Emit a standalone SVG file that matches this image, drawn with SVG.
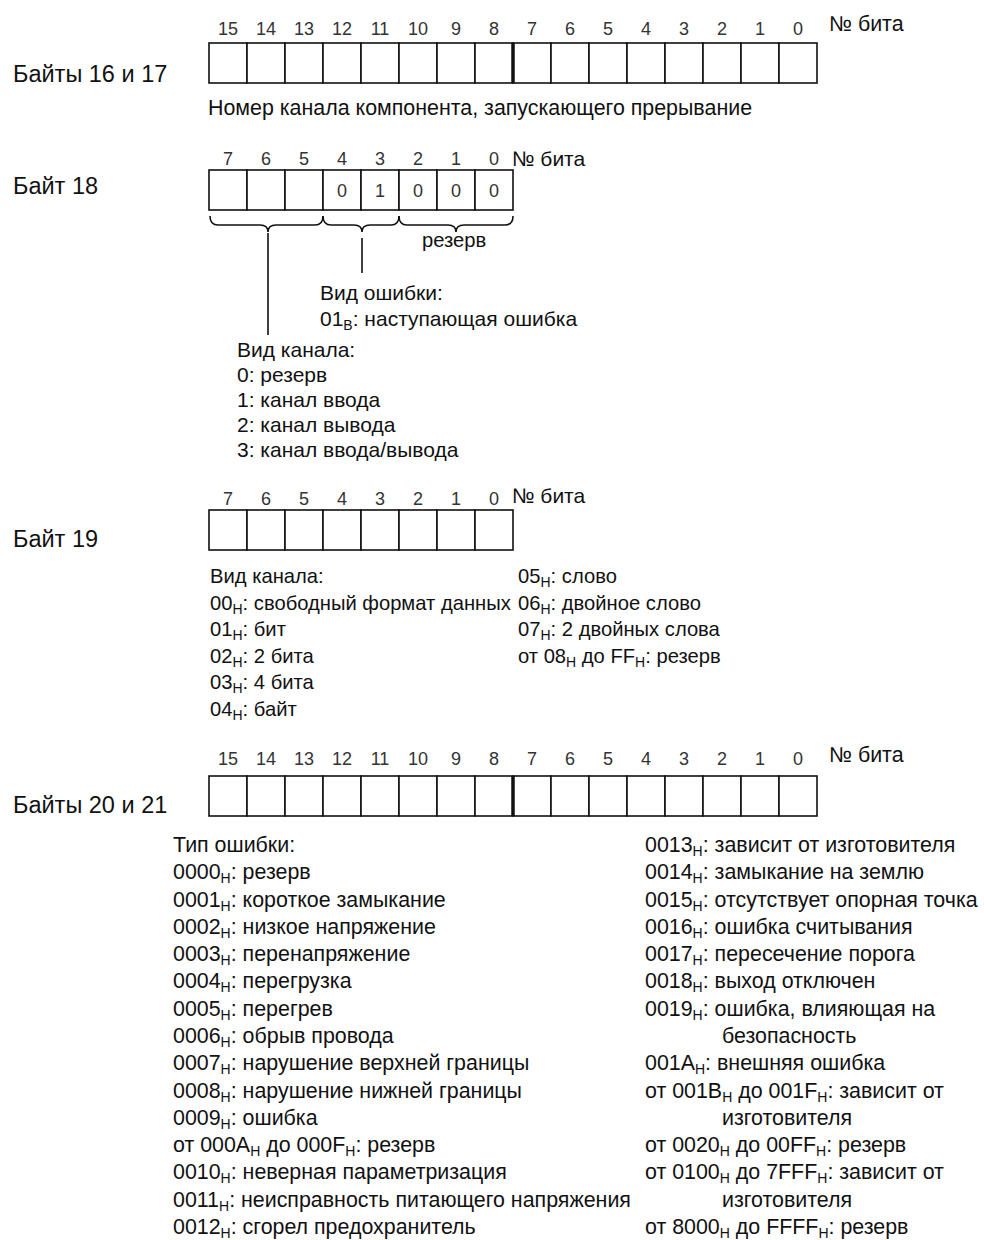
<svg xmlns="http://www.w3.org/2000/svg" width="984" height="1240" viewBox="0 0 984 1240">
<style>
text{font-family:"Liberation Sans",Arial,sans-serif;fill:#111}
.lbl{font-size:23.5px}
.n{font-size:18px;fill:#333;text-anchor:middle}
.b{font-size:21.4px}
.m{font-size:20.2px}
.k{font-size:21px}
.s{font-size:14px}
.cell{fill:#fff;stroke:#111;stroke-width:1.6}
.thick{stroke:#111;stroke-width:3.5}
.ln{fill:none;stroke:#111;stroke-width:1.6}
</style>
<rect width="984" height="1240" fill="#fff"/>

<g id="bytes16-17">
  <text class="lbl" x="13" y="82">Байты 16 и 17</text>
  <g>
    <text class="n" x="228" y="35">15</text><text class="n" x="266" y="35">14</text><text class="n" x="304" y="35">13</text><text class="n" x="342" y="35">12</text>
    <text class="n" x="380" y="35">11</text><text class="n" x="418" y="35">10</text><text class="n" x="456" y="35">9</text><text class="n" x="494" y="35">8</text>
    <text class="n" x="532" y="35">7</text><text class="n" x="570" y="35">6</text><text class="n" x="608" y="35">5</text><text class="n" x="646" y="35">4</text>
    <text class="n" x="684" y="35">3</text><text class="n" x="722" y="35">2</text><text class="n" x="760" y="35">1</text><text class="n" x="798" y="35">0</text>
  </g>
  <text class="b" x="829" y="31">№ бита</text>
  <g>
    <rect class="cell" x="209" y="43" width="38" height="40"/><rect class="cell" x="247" y="43" width="38" height="40"/><rect class="cell" x="285" y="43" width="38" height="40"/><rect class="cell" x="323" y="43" width="38" height="40"/>
    <rect class="cell" x="361" y="43" width="38" height="40"/><rect class="cell" x="399" y="43" width="38" height="40"/><rect class="cell" x="437" y="43" width="38" height="40"/><rect class="cell" x="475" y="43" width="38" height="40"/>
    <rect class="cell" x="513" y="43" width="38" height="40"/><rect class="cell" x="551" y="43" width="38" height="40"/><rect class="cell" x="589" y="43" width="38" height="40"/><rect class="cell" x="627" y="43" width="38" height="40"/>
    <rect class="cell" x="665" y="43" width="38" height="40"/><rect class="cell" x="703" y="43" width="38" height="40"/><rect class="cell" x="741" y="43" width="38" height="40"/><rect class="cell" x="779" y="43" width="38" height="40"/>
    <line class="thick" x1="513" y1="43" x2="513" y2="83"/>
  </g>
  <text class="b" x="208" y="115">Номер канала компонента, запускающего прерывание</text>
</g>

<g id="byte18">
  <text class="lbl" x="13" y="194">Байт 18</text>
  <g>
    <text class="n" x="228" y="165">7</text><text class="n" x="266" y="165">6</text><text class="n" x="304" y="165">5</text><text class="n" x="342" y="165">4</text>
    <text class="n" x="380" y="165">3</text><text class="n" x="418" y="165">2</text><text class="n" x="456" y="165">1</text><text class="n" x="494" y="165">0</text>
  </g>
  <text class="k" x="512" y="166">№ бита</text>
  <g>
    <rect class="cell" x="209" y="170" width="38" height="40"/><rect class="cell" x="247" y="170" width="38" height="40"/><rect class="cell" x="285" y="170" width="38" height="40"/><rect class="cell" x="323" y="170" width="38" height="40"/>
    <rect class="cell" x="361" y="170" width="38" height="40"/><rect class="cell" x="399" y="170" width="38" height="40"/><rect class="cell" x="437" y="170" width="38" height="40"/><rect class="cell" x="475" y="170" width="38" height="40"/>
  </g>
  <g>
    <text class="n" x="342" y="197">0</text><text class="n" x="380" y="197">1</text><text class="n" x="418" y="197">0</text><text class="n" x="456" y="197">0</text><text class="n" x="494" y="197">0</text>
  </g>
  <text class="m" x="422" y="247">резерв</text>
  <text class="k" x="320" y="300">Вид ошибки:</text>
  <text class="k" x="320" y="326">01<tspan class="s" dy="4">B</tspan><tspan dy="-4">: наступающая ошибка</tspan></text>
  <text class="k" x="237" y="357">Вид канала:</text>
  <text class="k" x="237" y="382">0: резерв</text>
  <text class="k" x="237" y="407">1: канал ввода</text>
  <text class="k" x="237" y="432">2: канал вывода</text>
  <text class="k" x="237" y="457">3: канал ввода/вывода</text>
</g>

<g id="connectors">
  <path class="ln" d="M210,216 Q210,225 218,225 L260,225 Q268,225 268,232 Q268,225 276,225 L315,225 Q323,225 323,216"/>
  <path class="ln" d="M323,216 Q323,225 331,225 L354,225 Q362,225 362,232 Q362,225 370,225 L391,225 Q399,225 399,216"/>
  <path class="ln" d="M399,216 Q399,225 407,225 L448,225 Q456,225 456,232 Q456,225 464,225 L505,225 Q513,225 513,216"/>
  <line class="ln" x1="268" y1="233" x2="268" y2="335"/>
  <line class="ln" x1="362" y1="238" x2="362" y2="273"/>
</g>

<g id="byte19">
  <text class="lbl" x="13" y="547">Байт 19</text>
  <g>
    <text class="n" x="228" y="505">7</text><text class="n" x="266" y="505">6</text><text class="n" x="304" y="505">5</text><text class="n" x="342" y="505">4</text>
    <text class="n" x="380" y="505">3</text><text class="n" x="418" y="505">2</text><text class="n" x="456" y="505">1</text><text class="n" x="494" y="505">0</text>
  </g>
  <text class="k" x="512" y="503">№ бита</text>
  <g>
    <rect class="cell" x="209" y="510" width="38" height="40"/><rect class="cell" x="247" y="510" width="38" height="40"/><rect class="cell" x="285" y="510" width="38" height="40"/><rect class="cell" x="323" y="510" width="38" height="40"/>
    <rect class="cell" x="361" y="510" width="38" height="40"/><rect class="cell" x="399" y="510" width="38" height="40"/><rect class="cell" x="437" y="510" width="38" height="40"/><rect class="cell" x="475" y="510" width="38" height="40"/>
  </g>
  <text class="m" x="210" y="583">Вид канала:</text>
  <text class="m" x="210" y="610">00<tspan class="s" dy="4">H</tspan><tspan dy="-4">: свободный формат данных</tspan></text>
  <text class="m" x="210" y="636">01<tspan class="s" dy="4">H</tspan><tspan dy="-4">: бит</tspan></text>
  <text class="m" x="210" y="663">02<tspan class="s" dy="4">H</tspan><tspan dy="-4">: 2 бита</tspan></text>
  <text class="m" x="210" y="689">03<tspan class="s" dy="4">H</tspan><tspan dy="-4">: 4 бита</tspan></text>
  <text class="m" x="210" y="716">04<tspan class="s" dy="4">H</tspan><tspan dy="-4">: байт</tspan></text>
  <text class="m" x="518" y="583">05<tspan class="s" dy="4">H</tspan><tspan dy="-4">: слово</tspan></text>
  <text class="m" x="518" y="610">06<tspan class="s" dy="4">H</tspan><tspan dy="-4">: двойное слово</tspan></text>
  <text class="m" x="518" y="636">07<tspan class="s" dy="4">H</tspan><tspan dy="-4">: 2 двойных слова</tspan></text>
  <text class="m" x="518" y="663">от 08<tspan class="s" dy="4">H</tspan><tspan dy="-4"> до FF</tspan><tspan class="s" dy="4">H</tspan><tspan dy="-4">: резерв</tspan></text>
</g>

<g id="bytes20-21">
  <text class="lbl" x="13" y="813">Байты 20 и 21</text>
  <g>
    <text class="n" x="228" y="765">15</text><text class="n" x="266" y="765">14</text><text class="n" x="304" y="765">13</text><text class="n" x="342" y="765">12</text>
    <text class="n" x="380" y="765">11</text><text class="n" x="418" y="765">10</text><text class="n" x="456" y="765">9</text><text class="n" x="494" y="765">8</text>
    <text class="n" x="532" y="765">7</text><text class="n" x="570" y="765">6</text><text class="n" x="608" y="765">5</text><text class="n" x="646" y="765">4</text>
    <text class="n" x="684" y="765">3</text><text class="n" x="722" y="765">2</text><text class="n" x="760" y="765">1</text><text class="n" x="798" y="765">0</text>
  </g>
  <text class="b" x="829" y="762">№ бита</text>
  <g>
    <rect class="cell" x="209" y="776" width="38" height="40"/><rect class="cell" x="247" y="776" width="38" height="40"/><rect class="cell" x="285" y="776" width="38" height="40"/><rect class="cell" x="323" y="776" width="38" height="40"/>
    <rect class="cell" x="361" y="776" width="38" height="40"/><rect class="cell" x="399" y="776" width="38" height="40"/><rect class="cell" x="437" y="776" width="38" height="40"/><rect class="cell" x="475" y="776" width="38" height="40"/>
    <rect class="cell" x="513" y="776" width="38" height="40"/><rect class="cell" x="551" y="776" width="38" height="40"/><rect class="cell" x="589" y="776" width="38" height="40"/><rect class="cell" x="627" y="776" width="38" height="40"/>
    <rect class="cell" x="665" y="776" width="38" height="40"/><rect class="cell" x="703" y="776" width="38" height="40"/><rect class="cell" x="741" y="776" width="38" height="40"/><rect class="cell" x="779" y="776" width="38" height="40"/>
    <line class="thick" x1="513" y1="776" x2="513" y2="816"/>
  </g>
  <g>
    <text class="b" x="173" y="852">Тип ошибки:</text>
    <text class="b" x="173" y="879">0000<tspan class="s" dy="4">H</tspan><tspan dy="-4">: резерв</tspan></text>
    <text class="b" x="173" y="907">0001<tspan class="s" dy="4">H</tspan><tspan dy="-4">: короткое замыкание</tspan></text>
    <text class="b" x="173" y="934">0002<tspan class="s" dy="4">H</tspan><tspan dy="-4">: низкое напряжение</tspan></text>
    <text class="b" x="173" y="961">0003<tspan class="s" dy="4">H</tspan><tspan dy="-4">: перенапряжение</tspan></text>
    <text class="b" x="173" y="988">0004<tspan class="s" dy="4">H</tspan><tspan dy="-4">: перегрузка</tspan></text>
    <text class="b" x="173" y="1016">0005<tspan class="s" dy="4">H</tspan><tspan dy="-4">: перегрев</tspan></text>
    <text class="b" x="173" y="1043">0006<tspan class="s" dy="4">H</tspan><tspan dy="-4">: обрыв провода</tspan></text>
    <text class="b" x="173" y="1070">0007<tspan class="s" dy="4">H</tspan><tspan dy="-4">: нарушение верхней границы</tspan></text>
    <text class="b" x="173" y="1098">0008<tspan class="s" dy="4">H</tspan><tspan dy="-4">: нарушение нижней границы</tspan></text>
    <text class="b" x="173" y="1125">0009<tspan class="s" dy="4">H</tspan><tspan dy="-4">: ошибка</tspan></text>
    <text class="b" x="173" y="1152">от 000A<tspan class="s" dy="4">H</tspan><tspan dy="-4"> до 000F</tspan><tspan class="s" dy="4">H</tspan><tspan dy="-4">: резерв</tspan></text>
    <text class="b" x="173" y="1179">0010<tspan class="s" dy="4">H</tspan><tspan dy="-4">: неверная параметризация</tspan></text>
    <text class="b" x="173" y="1207">0011<tspan class="s" dy="4">H</tspan><tspan dy="-4">: неисправность питающего напряжения</tspan></text>
    <text class="b" x="173" y="1234">0012<tspan class="s" dy="4">H</tspan><tspan dy="-4">: сгорел предохранитель</tspan></text>
  </g>
  <g>
    <text class="b" x="645" y="852">0013<tspan class="s" dy="4">H</tspan><tspan dy="-4">: зависит от изготовителя</tspan></text>
    <text class="b" x="645" y="879">0014<tspan class="s" dy="4">H</tspan><tspan dy="-4">: замыкание на землю</tspan></text>
    <text class="b" x="645" y="907">0015<tspan class="s" dy="4">H</tspan><tspan dy="-4">: отсутствует опорная точка</tspan></text>
    <text class="b" x="645" y="934">0016<tspan class="s" dy="4">H</tspan><tspan dy="-4">: ошибка считывания</tspan></text>
    <text class="b" x="645" y="961">0017<tspan class="s" dy="4">H</tspan><tspan dy="-4">: пересечение порога</tspan></text>
    <text class="b" x="645" y="988">0018<tspan class="s" dy="4">H</tspan><tspan dy="-4">: выход отключен</tspan></text>
    <text class="b" x="645" y="1016">0019<tspan class="s" dy="4">H</tspan><tspan dy="-4">: ошибка, влияющая на</tspan></text>
    <text class="b" x="722" y="1043">безопасность</text>
    <text class="b" x="645" y="1070">001A<tspan class="s" dy="4">H</tspan><tspan dy="-4">: внешняя ошибка</tspan></text>
    <text class="b" x="645" y="1098">от 001B<tspan class="s" dy="4">H</tspan><tspan dy="-4"> до 001F</tspan><tspan class="s" dy="4">H</tspan><tspan dy="-4">: зависит от</tspan></text>
    <text class="b" x="722" y="1125">изготовителя</text>
    <text class="b" x="645" y="1152">от 0020<tspan class="s" dy="4">H</tspan><tspan dy="-4"> до 00FF</tspan><tspan class="s" dy="4">H</tspan><tspan dy="-4">: резерв</tspan></text>
    <text class="b" x="645" y="1179">от 0100<tspan class="s" dy="4">H</tspan><tspan dy="-4"> до 7FFF</tspan><tspan class="s" dy="4">H</tspan><tspan dy="-4">: зависит от</tspan></text>
    <text class="b" x="722" y="1207">изготовителя</text>
    <text class="b" x="645" y="1234">от 8000<tspan class="s" dy="4">H</tspan><tspan dy="-4"> до FFFF</tspan><tspan class="s" dy="4">H</tspan><tspan dy="-4">: резерв</tspan></text>
  </g>
</g>
</svg>
